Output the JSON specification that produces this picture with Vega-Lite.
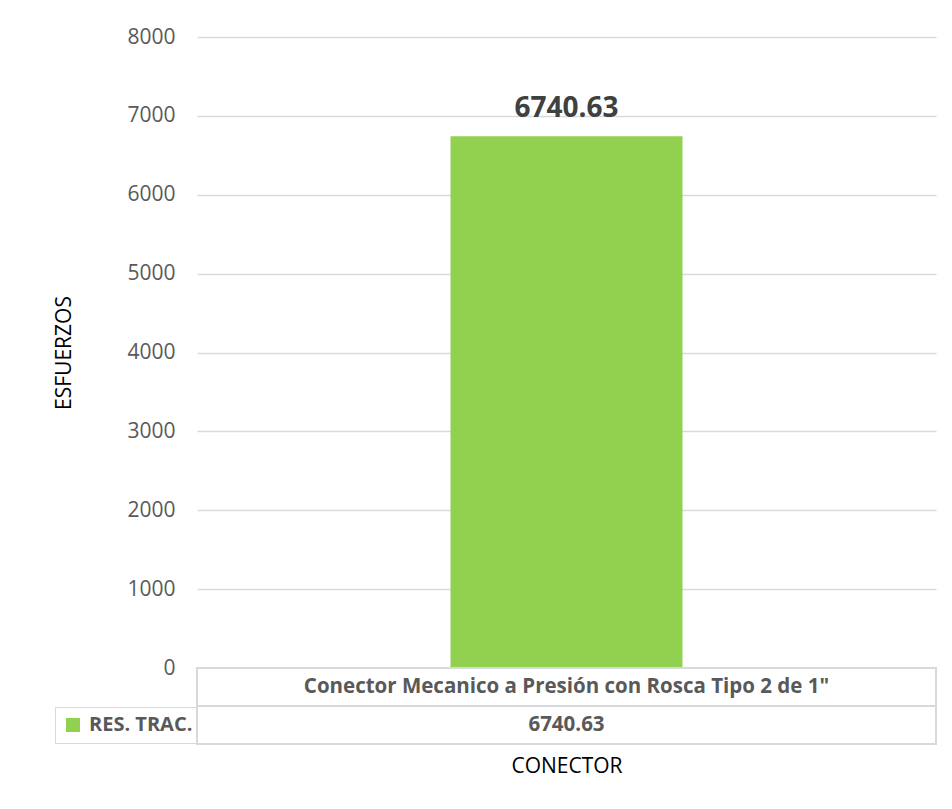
{
  "$schema": "https://vega.github.io/schema/vega-lite/v6.json",
  "background": "white",
  "padding": {"left": 53, "top": 26, "right": 0, "bottom": 12},
  "config": {
    "font": "Open Sans",
    "view": {"stroke": null}
  },
  "datasets": {
    "conectores": [
      {"conector": "Conector Mecanico a Presión con Rosca Tipo 2 de 1\"", "serie": "RES. TRAC.", "valor": 6740.63}
    ]
  },
  "spacing": 0,
  "bounds": "flush",
  "resolve": {"scale": {"color": "independent"}, "legend": {"color": "independent"}},
  "vconcat": [
    {
      "width": 739,
      "height": 631,
      "data": {"name": "conectores"},
      "encoding": {
        "x": {"field": "conector", "type": "nominal", "axis": null, "scale": {"paddingInner": 0.085, "paddingOuter": 1}},
        "y": {
          "field": "valor",
          "type": "quantitative",
          "scale": {"domain": [0, 8000]},
          "axis": {
            "title": "ESFUERZOS",
            "values": [0, 1000, 2000, 3000, 4000, 5000, 6000, 7000, 8000],
            "format": "d",
            "ticks": false,
            "domain": false,
            "labelPadding": 22,
            "labelFont": "Open Sans",
            "labelFontSize": 21,
            "labelColor": "#595959",
            "gridColor": "#d9d9d9",
            "gridWidth": 1.5,
            "titleFont": "Open Sans",
            "titleFontSize": 21,
            "titleFontWeight": "normal",
            "titleColor": "#000000",
            "titlePadding": 52
          }
        }
      },
      "layer": [
        {
          "mark": {"type": "bar"},
          "encoding": {
            "color": {
              "field": "serie",
              "type": "nominal",
              "scale": {"range": ["#92d050"]},
              "legend": {
                "orient": "none",
                "legendX": -142,
                "legendY": 670,
                "title": null,
                "symbolType": "square",
                "symbolSize": 196,
                "symbolStrokeWidth": 0,
                "labelFont": "Open Sans",
                "labelFontSize": 20,
                "labelFontWeight": "bold",
                "labelColor": "#595959",
                "labelOffset": 6,
                "padding": 8,
                "strokeColor": "#d9d9d9"
              }
            }
          }
        },
        {
          "mark": {"type": "text", "baseline": "alphabetic", "dy": -19, "fontSize": 28, "fontWeight": "bold", "color": "#404040"},
          "encoding": {"text": {"field": "valor", "type": "quantitative", "format": ".2f"}}
        }
      ]
    },
    {
      "width": 739,
      "height": 76,
      "data": {"name": "conectores"},
      "transform": [{"fold": ["conector", "valor"], "as": ["campo", "celda"]}],
      "encoding": {
        "x": {
          "field": "conector",
          "type": "nominal",
          "scale": {"paddingInner": 0, "paddingOuter": 0},
          "axis": {
            "title": "CONECTOR",
            "labels": false,
            "ticks": false,
            "domain": false,
            "titleFont": "Open Sans",
            "titleFontSize": 21,
            "titleFontWeight": "normal",
            "titleColor": "#000000",
            "titlePadding": 11
          }
        },
        "y": {
          "field": "campo",
          "type": "nominal",
          "sort": ["conector", "valor"],
          "scale": {"paddingInner": 0, "paddingOuter": 0},
          "axis": null
        }
      },
      "layer": [
        {"mark": {"type": "rect", "fill": "white", "stroke": "#d9d9d9", "strokeWidth": 2}},
        {
          "mark": {"type": "text", "fontSize": 20.5, "fontWeight": "bold", "color": "#595959"},
          "encoding": {"text": {"field": "celda", "type": "nominal"}}
        }
      ]
    }
  ]
}
